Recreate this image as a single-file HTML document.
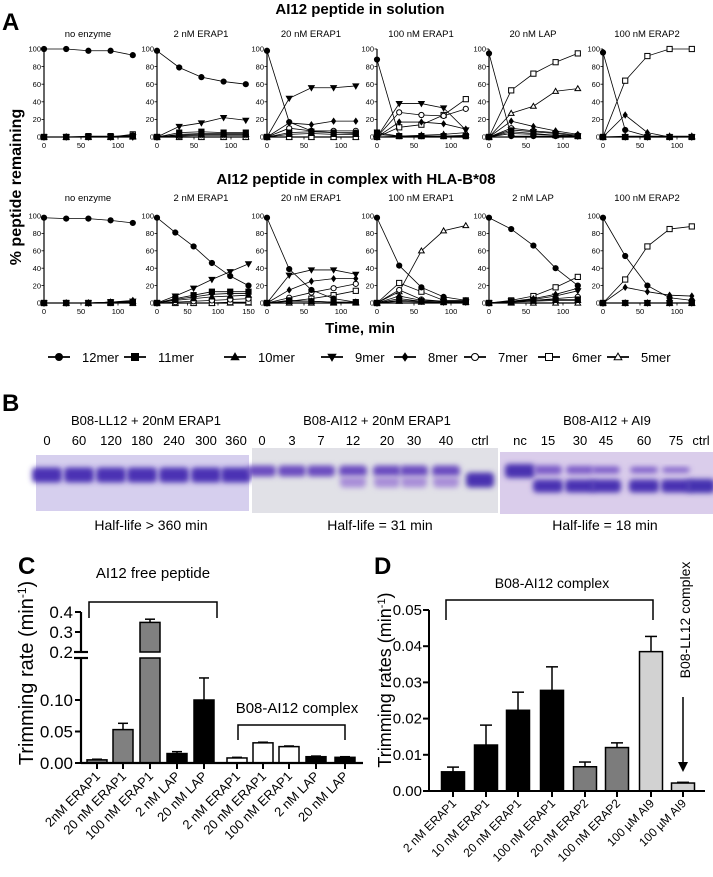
<!DOCTYPE html>
<html><head><meta charset="utf-8">
<style>
html,body{margin:0;padding:0;background:#fff;}
svg{display:block;font-family:"Liberation Sans",Arial,sans-serif;}
</style></head>
<body>
<svg id="fig" width="713" height="877" viewBox="0 0 713 877" xmlns="http://www.w3.org/2000/svg">
<defs>
<filter id="blur2" x="-30%" y="-80%" width="160%" height="260%"><feGaussianBlur stdDeviation="2.6"/></filter>
</defs>
<text x="2" y="30" font-size="24" font-weight="bold">A</text>
<text x="2" y="411" font-size="24" font-weight="bold">B</text>
<text x="18" y="574" font-size="24" font-weight="bold">C</text>
<text x="374" y="574" font-size="24" font-weight="bold">D</text>

<text x="360" y="14" font-size="15" font-weight="bold" text-anchor="middle">AI12 peptide in solution</text>
<text x="356" y="184" font-size="15" font-weight="bold" text-anchor="middle">AI12 peptide in complex with HLA-B*08</text>
<text x="360" y="333" font-size="15" font-weight="bold" text-anchor="middle">Time, min</text>
<text transform="translate(21,187) rotate(-90)" font-size="16" font-weight="bold" text-anchor="middle">% peptide remaining</text>

<g id="panelA"></g>
<g id="legendA"></g>
<g id="panelB"></g>
<g id="panelC"></g>
<g id="panelD"></g>
</svg>
<script>
// ===== Panel A data =====
const times = [0,30,60,90,120];
const timesLong = [0,30,60,90,120,150];
const topTitles = ["no enzyme","2 nM ERAP1","20 nM ERAP1","100 nM ERAP1","20 nM LAP","100 nM ERAP2"];
const bottomTitles = ["no enzyme","2 nM ERAP1","20 nM ERAP1","100 nM ERAP1","2 nM LAP","100 nM ERAP2"];
const merNames = ["12mer","11mer","10mer","9mer","8mer","7mer","6mer","5mer"];
const yTicksA = [0,20,40,60,80,100];
const m12T = [[100,100,98,98,93],[98,79,68,63,60],[98,17,7,5,5],[88,1,1,1,1],[95,1,1,1,1],[96,8,1,0,0]];
const m11T = [[0,0,1,1,1],[0,5,6,5,5],[0,5,6,5,4],[5,1,1,1,1],[0,6,4,2,1],[0,0,0,0,0]];
const m10T = [[0,0,0,0,1],[0,2,3,3,3],[0,3,4,3,3],[3,1,1,1,2],[0,4,3,2,1],[0,0,0,0,0]];
const m9T = [[0,0,0,0,0],[0,12,16,22,19],[0,44,56,56,58],[0,38,38,33,8],[0,8,6,4,1],[0,0,0,0,0]];
const m8T = [[0,0,0,0,0],[0,3,4,4,4],[0,16,14,18,18],[0,17,17,15,9],[0,18,12,7,3],[0,25,5,0,0]];
const m7T = [[0,0,0,0,2],[0,1,2,2,2],[0,10,7,7,7],[0,28,25,24,32],[0,10,7,5,2],[0,0,0,0,0]];
const m6T = [[0,0,0,0,3],[0,0,0,0,0],[0,0,0,0,0],[0,11,14,25,43],[0,53,72,85,95],[0,64,92,100,100]];
const m5T = [[0,0,0,0,0],[0,0,0,0,0],[0,0,0,0,0],[0,1,2,3,5],[0,27,35,52,55],[0,1,1,1,1]];
const m12B = [[98,97,97,95,92],[98,81,65,46,31,20],[98,39,15,5,1],[98,43,18,7,3],[98,85,66,40,20],[98,54,20,6,3]];
const m11B = [[0,0,0,1,1],[0,5,9,13,13,13],[0,3,2,1,1],[0,3,2,1,1],[0,2,3,4,4],[0,0,0,0,0]];
const m10B = [[0,0,0,1,2],[0,3,5,7,8,9],[0,2,2,1,1],[0,2,1,1,1],[0,1,2,3,3],[0,0,0,0,0]];
const m9B = [[0,0,0,1,2],[0,8,17,27,36,45],[0,32,38,38,33],[0,5,2,1,1],[0,2,4,8,14],[0,0,0,0,0]];
const m8B = [[0,0,0,1,3],[0,4,7,10,11,11],[0,15,25,28,28],[0,8,3,2,2],[0,2,5,10,17],[0,18,13,9,8]];
const m7B = [[0,0,0,0,1],[0,1,2,3,4,5],[0,6,12,17,22],[0,15,4,2,2],[0,1,3,5,7],[0,0,0,0,0]];
const m6B = [[0,0,0,0,0],[0,0,0,0,1,1],[0,2,5,9,14],[0,23,13,3,3],[0,3,8,18,30],[0,27,65,85,88]];
const m5B = [[0,0,0,0,0],[0,0,0,0,0,0],[0,0,0,0,0],[0,13,60,83,89],[0,0,0,0,0],[0,0,0,0,0]];

// ===== Panel C data =====
const cCategories = ["2nM ERAP1","20 nM ERAP1","100 nM ERAP1","2 nM LAP","20 nM LAP","2 nM ERAP1","20 nM ERAP1","100 nM ERAP1","2 nM LAP","20 nM LAP"];
const cValues = [0.005,0.053,0.348,0.015,0.100,0.008,0.032,0.026,0.010,0.009];
const cErrors = [0.001,0.010,0.016,0.003,0.035,0.001,0.001,0.001,0.001,0.001];
const cColors = ["#808080","#808080","#808080","#000","#000","#fff","#fff","#fff","#000","#000"];
const cTicksLow = ["0.00","0.05","0.10"];
const cTicksHigh = ["0.2","0.3","0.4"];

// ===== Panel D data =====
const dCategories = ["2 nM ERAP1","10 nM ERAP1","20 nM ERAP1","100 nM ERAP1","20 nM ERAP2","100 nM ERAP2","100 µM AI9","100 µM AI9"];
const dValues = [0.0053,0.0127,0.0223,0.0278,0.0067,0.0120,0.0385,0.0022];
const dErrors = [0.0013,0.0055,0.0050,0.0065,0.0013,0.0013,0.0042,0.0002];
const dColors = ["#000","#000","#000","#000","#7c7c7c","#7c7c7c","#d2d2d2","#d2d2d2"];
const dTicks = ["0.00","0.01","0.02","0.03","0.04","0.05"];

const NS = "http://www.w3.org/2000/svg";
function mk(tag, attrs, parent){
  const e = document.createElementNS(NS, tag);
  for (const k in attrs) e.setAttribute(k, attrs[k]);
  parent.appendChild(e);
  return e;
}
function txt(parent, x, y, s, size, anchor, extra){
  const t = mk("text", Object.assign({x:x, y:y, "font-size":size, "text-anchor":anchor||"start"}, extra||{}), parent);
  t.textContent = s;
  return t;
}
function marker(parent, type, x, y, s){
  let e;
  const filled = type < 5;
  const fill = filled ? "#000" : "#fff";
  if (type === 0 || type === 5) e = mk("circle", {cx:x, cy:y, r:s, fill:fill, stroke:"#000", "stroke-width":1}, parent);
  else if (type === 1 || type === 6) e = mk("rect", {x:x-s, y:y-s, width:2*s, height:2*s, fill:fill, stroke:"#000", "stroke-width":1}, parent);
  else if (type === 2 || type === 7) e = mk("polygon", {points:`${x},${y-s*1.1} ${x+s*1.1},${y+s*0.8} ${x-s*1.1},${y+s*0.8}`, fill:fill, stroke:"#000", "stroke-width":1}, parent);
  else if (type === 3) e = mk("polygon", {points:`${x},${y+s*1.1} ${x+s*1.1},${y-s*0.8} ${x-s*1.1},${y-s*0.8}`, fill:fill, stroke:"#000", "stroke-width":1}, parent);
  else e = mk("polygon", {points:`${x},${y-s} ${x+s*0.7},${y} ${x},${y+s} ${x-s*0.7},${y}`, fill:fill, stroke:"#000", "stroke-width":0.8}, parent);
  return e;
}

// ===== Panel A drawing =====
const gA = document.getElementById("panelA");
const originsX = [44,157,267,377,489,603];
const rows = [
  {y0:137, y100:49, titleY:37, titles:topTitles, data:[m12T,m11T,m10T,m9T,m8T,m7T,m6T,m5T], name:"solution"},
  {y0:303, y100:216, titleY:201, titles:bottomTitles, data:[m12B,m11B,m10B,m9B,m8B,m7B,m6B,m5B], name:"complex"}
];
rows.forEach((row, ri) => {
  for (let p = 0; p < 6; p++) {
    const g = mk("g", {}, gA);
    
    
    const ox = originsX[p];
    const isLong = (ri === 1 && p === 1);
    const tArr = isLong ? timesLong : times;
    const pxPerMin = isLong ? 0.61 : 0.74;
    const xMax = isLong ? 150 : 120;
    const sx = t => ox + t * pxPerMin;
    const sy = v => row.y0 - (v / 100) * (row.y0 - row.y100);
    const title = txt(g, ox + 44, row.titleY, row.titles[p], 9.5, "middle");
    
    
    mk("line", {x1:ox, y1:sy(0), x2:ox, y2:sy(100), stroke:"#000", "stroke-width":1.2}, g);
    mk("line", {x1:ox, y1:sy(0), x2:sx(xMax), y2:sy(0), stroke:"#000", "stroke-width":1.2}, g);
    yTicksA.forEach(v => {
      mk("line", {x1:ox-2.5, y1:sy(v), x2:ox, y2:sy(v), stroke:"#000", "stroke-width":0.8}, g);
      txt(g, ox-3, sy(v)+2.7, String(v), 7.5, "end");
    });
    const xt = isLong ? [0,50,100,150] : [0,50,100];
    xt.forEach(v => {
      mk("line", {x1:sx(v), y1:sy(0), x2:sx(v), y2:sy(0)+2.5, stroke:"#000", "stroke-width":0.8}, g);
      txt(g, sx(v), sy(0)+11, String(v), 7.5, "middle");
    });
    for (let m = 7; m >= 0; m--) {
      const vals = row.data[m][p];
      const pts = vals.map((v,i) => `${sx(tArr[i])},${sy(v)}`).join(" ");
      const line = mk("polyline", {points:pts, fill:"none", stroke:"#000", "stroke-width":0.8}, g);
      
      
      vals.forEach((v,i) => {
        const mkr = marker(g, m, sx(tArr[i]), sy(v), m === 4 ? 3 : 2.6);
        
        
      });
    }
  }
});

// legend
const gL = document.getElementById("legendA");
const legMarkX = [59,135,235,332,405,475,549,618];
const legY = 357;
merNames.forEach((n, i) => {
  const g = mk("g", {}, gL);
  
  
  const x = legMarkX[i];
  mk("line", {x1:x-11, y1:legY, x2:x+11, y2:legY, stroke:"#000", "stroke-width":1.8}, g);
  marker(g, i, x, legY, i === 4 ? 4 : 3.5);
  txt(g, x + 23, legY + 5, n, 13, "start");
});

// ===== Panel B gels =====
const gB = document.getElementById("panelB");
function gel(name, x0, x1, y0, y1, bg, bands, title, titleX, labels, labelXs, half, halfX){
  const g = mk("g", {}, gB);
  
  
  const tt = txt(g, titleX, 425, title, 13, "middle");
  
  
  labels.forEach((l,i) => txt(g, labelXs[i], 445, l, 13, "middle"));
  mk("rect", {x:x0, y:y0, width:x1-x0, height:y1-y0, fill:bg}, g);
  bands.forEach(b => {
    const r = mk("rect", {x:b[0]-b[3]/2, y:b[1]-b[4]/2, width:b[3], height:b[4], rx:4, fill:b[2], filter:"url(#blur2)"}, g);
    
    
  });
  txt(g, halfX, 530, half, 14, "middle");
}
const leftLanes = [47,79,111,142,174,206,236];
const leftBands = leftLanes.map(x => [x,475,"#4b32b4",30,15]);
gel("gel-ll12-erap1", 36, 249, 455, 511, "#d6cfee", leftBands, "B08-LL12 + 20nM ERAP1", 146,
    ["0","60","120","180","240","300","360"], leftLanes, "Half-life > 360 min", 151);
const midLanes = [262,292,321,353,387,414,446,480];
const midBands = [];
midLanes.forEach((x,i) => {
  if (i === 7) { midBands.push([x,480,"#4a30b0",28,15]); }
  else {
    midBands.push([x,471,"#6a4cc0",28,11]);
    if (i >= 3) midBands.push([x,482,"#a88ed8",26,11]);
  }
});
gel("gel-ai12-erap1", 252, 498, 448, 513, "#e1e1e7", midBands, "B08-AI12 + 20nM ERAP1", 377,
    ["0","3","7","12","20","30","40","ctrl"], midLanes, "Half-life = 31 min", 380);
const rightLanes = [520,548,580,606,644,676,701];
const rightBands = [];
rightLanes.forEach((x,i) => {
  if (i === 0) rightBands.push([x,471,"#4a30b0",30,14]);
  else if (i === 6) rightBands.push([x,486,"#4530b0",28,14]);
  else {
    rightBands.push([x,470,"#7a5ac8",28,10 - i]);
    rightBands.push([x,486,"#4a32b2",30,13]);
  }
});
gel("gel-ai12-ai9", 500, 713, 452, 514, "#dacdeb", rightBands, "B08-AI12 + AI9", 607,
    ["nc","15","30","45","60","75","ctrl"], rightLanes, "Half-life = 18 min", 605);

// ===== Panel C =====
const gC = document.getElementById("panelC");
const cAxisX = 81, cBase = 763;
const cLowTop = 658, cHighBot = 652;
const cyLow = v => cBase - v * 630;
const cyHigh = v => cHighBot - (v - 0.2) * 200;
const cBarX = [97,123,150,177,204,237,263,289,316,345];
const cBarW = 20;
const cy = v => v <= 0.1667 ? cyLow(v) : (v < 0.2 ? cLowTop : cyHigh(v));
cValues.forEach((v,i) => {
  const x = cBarX[i] - cBarW/2;
  const g = mk("g", {}, gC);
  
  
  if (v <= 0.1667) {
    mk("rect", {x:x, y:cyLow(v), width:cBarW, height:cBase - cyLow(v), fill:cColors[i], stroke:"#000", "stroke-width":1.5}, g);
  } else {
    mk("rect", {x:x, y:cLowTop, width:cBarW, height:cBase - cLowTop, fill:cColors[i], stroke:"#000", "stroke-width":1.5}, g);
    mk("rect", {x:x, y:cyHigh(v), width:cBarW, height:cHighBot - cyHigh(v), fill:cColors[i], stroke:"#000", "stroke-width":1.5}, g);
  }
  const top = cy(v + cErrors[i]);
  mk("line", {x1:cBarX[i], y1:cy(v), x2:cBarX[i], y2:top, stroke:"#000", "stroke-width":1.5}, g);
  mk("line", {x1:cBarX[i]-5, y1:top, x2:cBarX[i]+5, y2:top, stroke:"#000", "stroke-width":1.5}, g);
  mk("line", {x1:cBarX[i], y1:cBase, x2:cBarX[i], y2:cBase+6, stroke:"#000", "stroke-width":2}, g);
  const lab = txt(g, 0, 0, cCategories[i], 13, "end", {transform:`translate(${cBarX[i]+4},${cBase+14}) rotate(-45)`});
  
  
});
mk("line", {x1:cAxisX, y1:cBase, x2:cAxisX, y2:cLowTop, stroke:"#000", "stroke-width":2.2}, gC);
mk("line", {x1:cAxisX, y1:cHighBot, x2:cAxisX, y2:cyHigh(0.4), stroke:"#000", "stroke-width":2.2}, gC);
mk("line", {x1:cAxisX, y1:cBase, x2:363, y2:cBase, stroke:"#000", "stroke-width":2.2}, gC);
mk("line", {x1:cAxisX-7, y1:cLowTop, x2:cAxisX+7, y2:cLowTop, stroke:"#000", "stroke-width":2.2}, gC);
mk("line", {x1:cAxisX-7, y1:cHighBot, x2:cAxisX+7, y2:cHighBot, stroke:"#000", "stroke-width":2.2}, gC);
cTicksLow.forEach(s => {
  const v = parseFloat(s);
  mk("line", {x1:cAxisX-6, y1:cyLow(v), x2:cAxisX, y2:cyLow(v), stroke:"#000", "stroke-width":2}, gC);
  txt(gC, cAxisX-8, cyLow(v)+6, s, 17, "end");
});
cTicksHigh.forEach(s => {
  const v = parseFloat(s);
  mk("line", {x1:cAxisX-6, y1:cyHigh(v), x2:cAxisX, y2:cyHigh(v), stroke:"#000", "stroke-width":2}, gC);
  txt(gC, cAxisX-8, cyHigh(v)+6, s, 17, "end");
});
const cyl = txt(gC, 0, 0, "", 20, "middle", {transform:"translate(33,673) rotate(-90)"});
cyl.innerHTML = 'Trimming rate (min<tspan baseline-shift="super" font-size="12">-1</tspan>)';


txt(gC, 153, 578, "AI12 free peptide", 15, "middle");
mk("polyline", {points:"89,618 89,602 217,602 217,618", fill:"none", stroke:"#000", "stroke-width":1.5}, gC);
txt(gC, 297, 713, "B08-AI12 complex", 15, "middle");
mk("polyline", {points:"238,740 238,725 345,725 345,740", fill:"none", stroke:"#000", "stroke-width":1.5}, gC);

// ===== Panel D =====
const gD = document.getElementById("panelD");
const dAxisX = 429, dBase = 791;
const dy = v => dBase - v * 3620;
const dBarX = [453,486,518,552,585,617,651,683];
const dBarW = 23;
dValues.forEach((v,i) => {
  const g = mk("g", {}, gD);
  
  
  mk("rect", {x:dBarX[i]-dBarW/2, y:dy(v), width:dBarW, height:dBase - dy(v), fill:dColors[i], stroke:"#000", "stroke-width":1.5}, g);
  const top = dy(v + dErrors[i]);
  mk("line", {x1:dBarX[i], y1:dy(v), x2:dBarX[i], y2:top, stroke:"#000", "stroke-width":1.5}, g);
  mk("line", {x1:dBarX[i]-6, y1:top, x2:dBarX[i]+6, y2:top, stroke:"#000", "stroke-width":1.5}, g);
  mk("line", {x1:dBarX[i], y1:dBase, x2:dBarX[i], y2:dBase+6, stroke:"#000", "stroke-width":2}, g);
  const lab = txt(g, 0, 0, dCategories[i], 12, "end", {transform:`translate(${dBarX[i]+4},${dBase+13}) rotate(-45)`});
  
  
});
mk("line", {x1:dAxisX, y1:dBase, x2:dAxisX, y2:dy(0.05), stroke:"#000", "stroke-width":2}, gD);
mk("line", {x1:dAxisX, y1:dBase, x2:705, y2:dBase, stroke:"#000", "stroke-width":2}, gD);
dTicks.forEach(s => {
  const v = parseFloat(s);
  mk("line", {x1:dAxisX-6, y1:dy(v), x2:dAxisX, y2:dy(v), stroke:"#000", "stroke-width":2}, gD);
  txt(gD, dAxisX-7, dy(v)+5, s, 15, "end");
});
const dyl = txt(gD, 0, 0, "", 18, "middle", {transform:"translate(391,680) rotate(-90)"});
dyl.innerHTML = 'Trimming rates (min<tspan baseline-shift="super" font-size="11">-1</tspan>)';


txt(gD, 552, 588, "B08-AI12 complex", 14, "middle");
mk("polyline", {points:"446,620 446,600 653,600 653,620", fill:"none", stroke:"#000", "stroke-width":1.5}, gD);
txt(gD, 0, 0, "B08-LL12 complex", 14, "middle", {transform:"translate(690,620) rotate(-90)"});
mk("line", {x1:683, y1:697, x2:683, y2:766, stroke:"#000", "stroke-width":1.5}, gD);
mk("polygon", {points:"678,762 688,762 683,772", fill:"#000"}, gD);
</script>
</body></html>
